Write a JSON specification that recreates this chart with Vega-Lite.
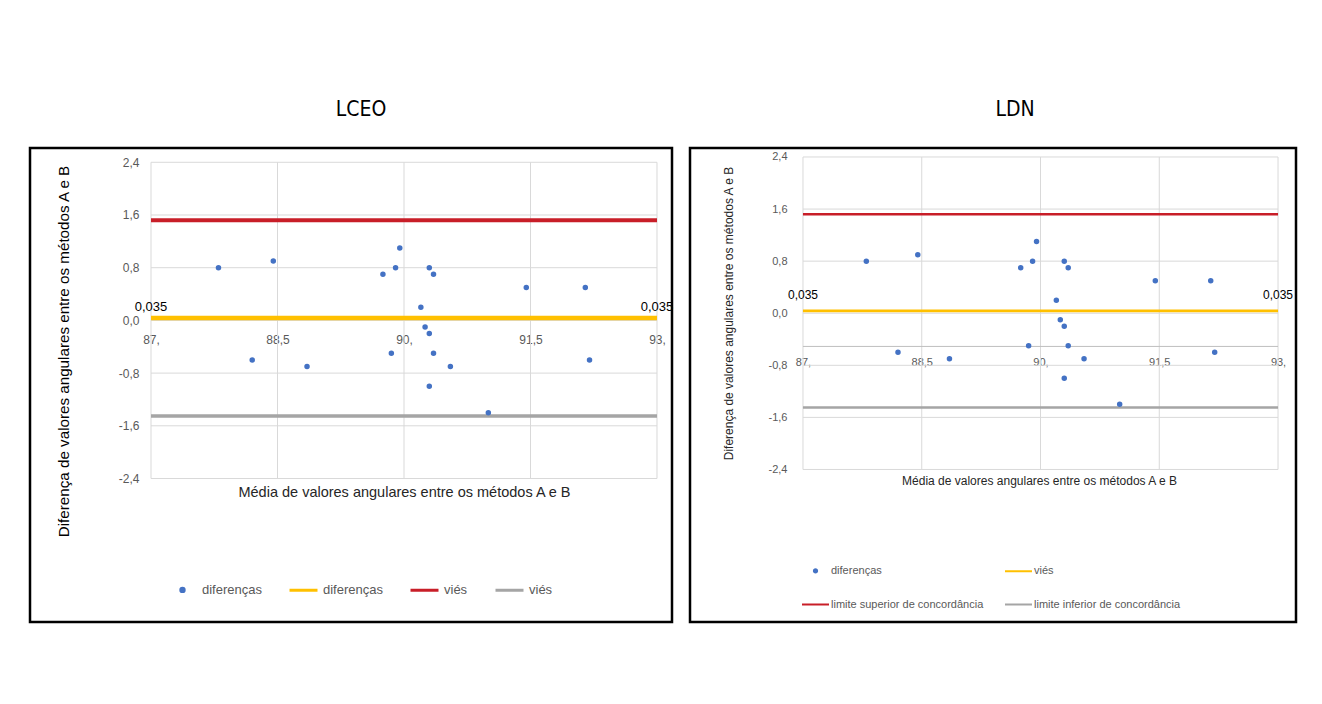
{
  "$schema": "https://vega.github.io/schema/vega-lite/v6.json",
  "background": "white",
  "padding": {"left": 28, "top": 97, "right": 0, "bottom": 0},
  "spacing": 18,
  "bounds": "flush",
  "config": {
    "font": "Liberation Sans",
    "view": {"stroke": "#000000", "strokeWidth": 2.5},
    "locale": {"number": {"decimal": ",", "thousands": ".", "grouping": [3], "currency": ["", ""], "minus": "-"}},
    "axis": {"labelFont": "Liberation Sans", "titleFont": "Liberation Sans"},
    "legend": {"labelFont": "Liberation Sans"}
  },
  "datasets": {
    "pontos": [
      {"media": 87.8, "diferenca": 0.8},
      {"media": 88.45, "diferenca": 0.9},
      {"media": 88.2, "diferenca": -0.6},
      {"media": 88.85, "diferenca": -0.7},
      {"media": 89.75, "diferenca": 0.7},
      {"media": 89.9, "diferenca": 0.8},
      {"media": 89.95, "diferenca": 1.1},
      {"media": 89.85, "diferenca": -0.5},
      {"media": 90.2, "diferenca": 0.2},
      {"media": 90.25, "diferenca": -0.1},
      {"media": 90.3, "diferenca": 0.8},
      {"media": 90.35, "diferenca": 0.7},
      {"media": 90.3, "diferenca": -0.2},
      {"media": 90.35, "diferenca": -0.5},
      {"media": 90.3, "diferenca": -1.0},
      {"media": 90.55, "diferenca": -0.7},
      {"media": 91.0, "diferenca": -1.4},
      {"media": 91.45, "diferenca": 0.5},
      {"media": 92.15, "diferenca": 0.5},
      {"media": 92.2, "diferenca": -0.6}
    ],
    "linhas": [
      {"serie": "viés", "media": 87, "diferenca": 0.035},
      {"serie": "viés", "media": 93, "diferenca": 0.035},
      {"serie": "limite superior", "media": 87, "diferenca": 1.52},
      {"serie": "limite superior", "media": 93, "diferenca": 1.52},
      {"serie": "limite inferior", "media": 87, "diferenca": -1.45},
      {"serie": "limite inferior", "media": 93, "diferenca": -1.45}
    ],
    "gradeX": [{"valor": 87}, {"valor": 88.5}, {"valor": 90}, {"valor": 91.5}, {"valor": 93}],
    "gradeY": [{"valor": -2.4}, {"valor": -1.6}, {"valor": -0.8}, {"valor": 0}, {"valor": 0.8}, {"valor": 1.6}, {"valor": 2.4}]
  },
  "resolve": {
    "scale": {"x": "independent", "y": "independent", "color": "independent", "shape": "independent", "stroke": "independent", "strokeWidth": "independent"},
    "legend": {"color": "independent", "shape": "independent"}
  },
  "hconcat": [
    {
      "width": 642,
      "height": 474,
      "title": {"text": "LCEO", "font": "Liberation Sans Narrow, DejaVu Sans Condensed, Liberation Sans, sans-serif", "fontSize": 21, "fontWeight": "normal", "color": "#000000", "anchor": "middle", "dx": 10, "offset": 28},
      "layer": [
        {
          "data": {"name": "gradeX"},
          "mark": {"type": "rule", "color": "#D9D9D9", "strokeWidth": 1},
          "encoding": {
            "x": {"field": "valor", "type": "quantitative", "scale": {"domain": [85.565, 93.178], "nice": false, "zero": false},
              "axis": {"values": [87, 88.5, 90, 91.5, 93], "labelExpr": "datum.value % 1 === 0 ? datum.value + ',' : replace(format(datum.value, '.1f'), '.', ',')", "grid": false, "domain": false, "ticks": false, "offset": -302, "labelPadding": 14, "labelFontSize": 12, "labelColor": "#595959", "labelFlush": false, "labelOverlap": false,
                "title": "Média de valores angulares entre os métodos A e B", "titleFontSize": 14.5, "titleFontWeight": "normal", "titleColor": "#262626", "titleX": 374, "titleY": 172, "titleBaseline": "middle", "titleAlign": "center"}},
            "y": {"datum": -2.4, "type": "quantitative", "scale": {"domain": [-4.578, 2.617], "nice": false, "zero": false},
              "axis": {"values": [-2.4, -1.6, -0.8, 0, 0.8, 1.6, 2.4], "labelExpr": "replace(format(datum.value, '.1f'), '.', ',')", "grid": false, "domain": false, "ticks": false, "offset": -121, "labelPadding": 12, "labelFontSize": 12, "labelColor": "#595959", "labelOverlap": false,
                "title": "Diferença de valores angulares entre os métodos A e B", "titleFontSize": 15.2, "titleFontWeight": "normal", "titleColor": "#000000", "titleX": -88, "titleY": 203, "titleAngle": -90, "titleBaseline": "middle", "titleAlign": "center"}},
            "y2": {"datum": 2.4}
          }
        },
        {
          "data": {"name": "gradeY"},
          "mark": {"type": "rule", "color": "#D9D9D9", "strokeWidth": 1},
          "encoding": {
            "y": {"field": "valor", "type": "quantitative", "scale": {"domain": [-4.578, 2.617], "nice": false, "zero": false}},
            "x": {"datum": 87, "type": "quantitative", "scale": {"domain": [85.565, 93.178], "nice": false, "zero": false}},
            "x2": {"datum": 93}
          }
        },
        {
          "data": {"name": "linhas"},
          "mark": {"type": "line"},
          "encoding": {
            "x": {"field": "media", "type": "quantitative", "scale": {"domain": [85.565, 93.178], "nice": false, "zero": false}},
            "y": {"field": "diferenca", "type": "quantitative", "scale": {"domain": [-4.578, 2.617], "nice": false, "zero": false}},
            "stroke": {"field": "serie", "type": "nominal", "scale": {"domain": ["viés", "limite superior", "limite inferior"], "range": ["#FFC000", "#C81E28", "#A5A5A5"]}, "legend": null},
            "strokeWidth": {"field": "serie", "type": "nominal", "scale": {"domain": ["viés", "limite superior", "limite inferior"], "range": [4.5, 3.5, 2]}, "legend": null}
          }
        },
        {
          "data": {"name": "linhas"},
          "transform": [{"filter": "datum.serie === 'viés'"}],
          "mark": {"type": "text", "fontSize": 13, "color": "#000000", "dy": -11, "align": "center", "baseline": "middle"},
          "encoding": {
            "x": {"field": "media", "type": "quantitative", "scale": {"domain": [85.565, 93.178], "nice": false, "zero": false}},
            "y": {"field": "diferenca", "type": "quantitative", "scale": {"domain": [-4.578, 2.617], "nice": false, "zero": false}},
            "text": {"field": "diferenca", "type": "quantitative", "format": ".3f"}
          }
        },
        {
          "data": {"name": "pontos"},
          "mark": {"type": "point", "filled": false, "fill": "#4472C4", "opacity": 1, "size": 851},
          "encoding": {
            "x": {"field": "media", "type": "quantitative", "scale": {"domain": [85.565, 93.178], "nice": false, "zero": false}},
            "y": {"field": "diferenca", "type": "quantitative", "scale": {"domain": [-4.578, 2.617], "nice": false, "zero": false}},
            "color": {"datum": "diferenças", "type": "nominal", "scale": {"domain": ["diferenças", "diferenças ", "viés", "viés "], "range": ["#4472C4", "#FFC000", "#C81E28", "#A5A5A5"]},
              "legend": {"orient": "none", "legendX": 137, "legendY": 426, "direction": "horizontal", "columns": 4, "title": null, "labelFontSize": 13, "labelColor": "#595959", "labelOffset": 4, "columnPadding": 21, "symbolSize": 784, "symbolStrokeWidth": 3, "labelExpr": "trim(datum.label)"}},
            "shape": {"datum": "diferenças", "type": "nominal", "scale": {"domain": ["diferenças", "diferenças ", "viés", "viés "], "range": ["M-0.12,0A0.12,0.12,0,1,0,0.12,0A0.12,0.12,0,1,0,-0.12,0Z", "stroke", "stroke", "stroke"]},
              "legend": {"orient": "none", "legendX": 137, "legendY": 426, "direction": "horizontal", "columns": 4, "title": null, "labelFontSize": 13, "labelColor": "#595959", "labelOffset": 4, "columnPadding": 21, "symbolSize": 784, "symbolStrokeWidth": 3, "labelExpr": "trim(datum.label)"}}
          }
        }
      ]
    },
    {
      "width": 606,
      "height": 474,
      "title": {"text": "LDN", "font": "Liberation Sans Narrow, DejaVu Sans Condensed, Liberation Sans, sans-serif", "fontSize": 21, "fontWeight": "normal", "color": "#000000", "anchor": "middle", "dx": 22, "offset": 28},
      "layer": [
        {
          "data": {"name": "gradeX"},
          "mark": {"type": "rule", "color": "#D9D9D9", "strokeWidth": 1},
          "encoding": {
            "x": {"field": "valor", "type": "quantitative", "scale": {"domain": [85.573, 93.227], "nice": false, "zero": false},
              "axis": {"values": [87, 88.5, 90, 91.5, 93], "labelExpr": "datum.value % 1 === 0 ? datum.value + ',' : replace(format(datum.value, '.1f'), '.', ',')", "grid": false, "domain": false, "ticks": false, "offset": -275.7, "labelPadding": 10, "labelFontSize": 11, "labelColor": "#595959", "labelFlush": false, "labelOverlap": false,
                "title": "Média de valores angulares entre os métodos A e B", "titleFontSize": 12, "titleFontWeight": "normal", "titleColor": "#262626", "titleX": 349, "titleY": 134, "titleBaseline": "middle", "titleAlign": "center"}},
            "y": {"datum": -2.4, "type": "quantitative", "scale": {"domain": [-4.743, 2.538], "nice": false, "zero": false},
              "axis": {"values": [-2.4, -1.6, -0.8, 0, 0.8, 1.6, 2.4], "labelExpr": "replace(format(datum.value, '.1f'), '.', ',')", "grid": false, "domain": false, "ticks": false, "offset": -113, "labelPadding": 16, "labelFontSize": 11, "labelColor": "#595959", "labelOverlap": false,
                "title": "Diferença de valores angulares entre os métodos A e B", "titleFontSize": 12, "titleFontWeight": "normal", "titleColor": "#262626", "titleX": -75, "titleY": 165, "titleAngle": -90, "titleBaseline": "middle", "titleAlign": "center"}},
            "y2": {"datum": 2.4}
          }
        },
        {
          "data": {"name": "gradeY"},
          "mark": {"type": "rule", "color": "#D9D9D9", "strokeWidth": 1},
          "encoding": {
            "y": {"field": "valor", "type": "quantitative", "scale": {"domain": [-4.743, 2.538], "nice": false, "zero": false}},
            "x": {"datum": 87, "type": "quantitative", "scale": {"domain": [85.573, 93.227], "nice": false, "zero": false}},
            "x2": {"datum": 93}
          }
        },
        {
          "data": {"values": [{}]},
          "mark": {"type": "rule", "color": "#BFBFBF", "strokeWidth": 1},
          "encoding": {
            "y": {"datum": -0.51, "type": "quantitative", "scale": {"domain": [-4.743, 2.538], "nice": false, "zero": false}},
            "x": {"datum": 87, "type": "quantitative", "scale": {"domain": [85.573, 93.227], "nice": false, "zero": false}},
            "x2": {"datum": 93}
          }
        },
        {
          "data": {"name": "linhas"},
          "mark": {"type": "line"},
          "encoding": {
            "x": {"field": "media", "type": "quantitative", "scale": {"domain": [85.573, 93.227], "nice": false, "zero": false}},
            "y": {"field": "diferenca", "type": "quantitative", "scale": {"domain": [-4.743, 2.538], "nice": false, "zero": false}},
            "stroke": {"field": "serie", "type": "nominal", "scale": {"domain": ["viés", "limite superior", "limite inferior"], "range": ["#FFC000", "#C81E28", "#A5A5A5"]}, "legend": null},
            "strokeWidth": {"field": "serie", "type": "nominal", "scale": {"domain": ["viés", "limite superior", "limite inferior"], "range": [2.8, 2.5, 1.3]}, "legend": null}
          }
        },
        {
          "data": {"name": "linhas"},
          "transform": [{"filter": "datum.serie === 'viés'"}],
          "mark": {"type": "text", "fontSize": 12, "color": "#000000", "dy": -16, "align": "center", "baseline": "middle"},
          "encoding": {
            "x": {"field": "media", "type": "quantitative", "scale": {"domain": [85.573, 93.227], "nice": false, "zero": false}},
            "y": {"field": "diferenca", "type": "quantitative", "scale": {"domain": [-4.743, 2.538], "nice": false, "zero": false}},
            "text": {"field": "diferenca", "type": "quantitative", "format": ".3f"}
          }
        },
        {
          "data": {"name": "pontos"},
          "mark": {"type": "point", "filled": false, "fill": "#4472C4", "opacity": 1, "size": 851},
          "encoding": {
            "x": {"field": "media", "type": "quantitative", "scale": {"domain": [85.573, 93.227], "nice": false, "zero": false}},
            "y": {"field": "diferenca", "type": "quantitative", "scale": {"domain": [-4.743, 2.538], "nice": false, "zero": false}},
            "color": {"datum": "diferenças", "type": "nominal", "scale": {"domain": ["diferenças", "viés", "limite superior de concordância", "limite inferior de concordância"], "range": ["#4472C4", "#FFC000", "#C81E28", "#A5A5A5"]},
              "legend": {"orient": "none", "legendX": 111, "legendY": 408, "direction": "horizontal", "columns": 2, "title": null, "labelFontSize": 11, "labelColor": "#595959", "labelOffset": 1, "columnPadding": 17, "rowPadding": 13, "symbolSize": 729, "symbolStrokeWidth": 2}},
            "shape": {"datum": "diferenças", "type": "nominal", "scale": {"domain": ["diferenças", "viés", "limite superior de concordância", "limite inferior de concordância"], "range": ["M-0.12,0A0.12,0.12,0,1,0,0.12,0A0.12,0.12,0,1,0,-0.12,0Z", "stroke", "stroke", "stroke"]},
              "legend": {"orient": "none", "legendX": 111, "legendY": 408, "direction": "horizontal", "columns": 2, "title": null, "labelFontSize": 11, "labelColor": "#595959", "labelOffset": 1, "columnPadding": 17, "rowPadding": 13, "symbolSize": 729, "symbolStrokeWidth": 2}}
          }
        }
      ]
    }
  ]
}
